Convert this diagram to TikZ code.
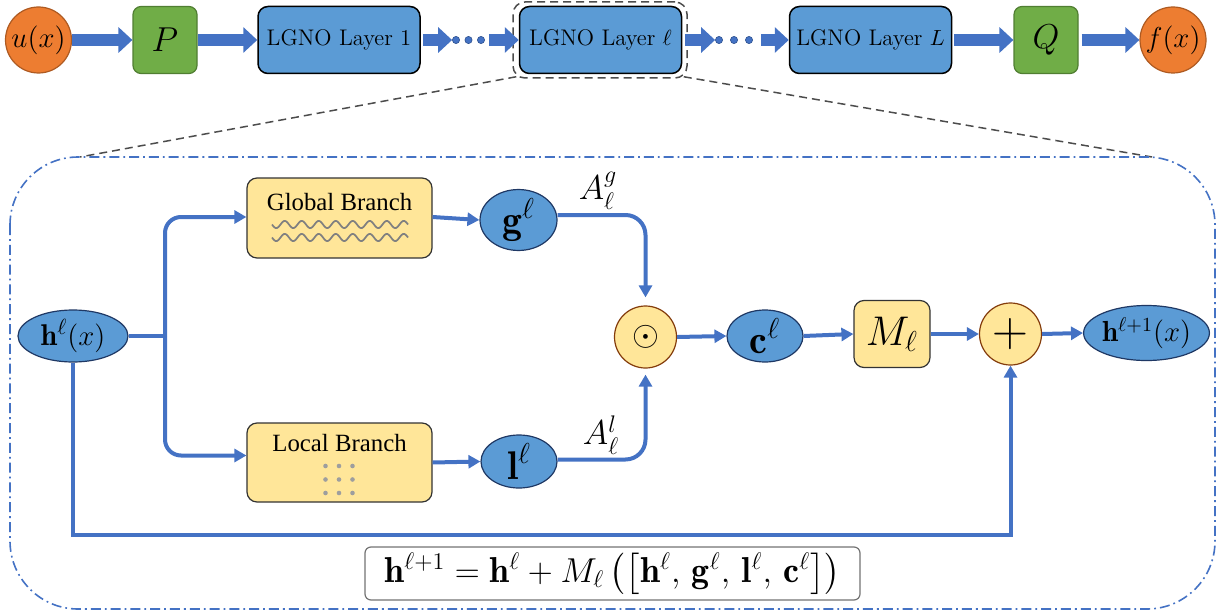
\documentclass[tikz,border=0pt]{standalone}
\usepackage{fontspec}
\usepackage{amsmath}
\newfontfamily\timesf{Liberation Serif}
\usetikzlibrary{arrows.meta,shapes.geometric,calc}
\definecolor{cblue}{HTML}{4472C4}
\definecolor{lblue}{HTML}{5B9BD5}
\definecolor{dblue}{HTML}{2F528F}
\definecolor{corange}{HTML}{ED7D31}
\definecolor{borange}{HTML}{AE5A21}
\definecolor{cgreen}{HTML}{70AD47}
\definecolor{bgreen}{HTML}{507E32}
\definecolor{cyel}{HTML}{FFE699}
\definecolor{bbrown}{HTML}{843C0C}
\definecolor{navy}{HTML}{1F3864}
\begin{document}
\begin{tikzpicture}[x=0.5pt,y=-0.5pt,
 fat/.style={line width=6pt, cblue, -{Triangle[length=7pt,width=12.5pt]}},
 conn/.style={line width=2pt, cblue},
 tip/.style={-{Triangle[length=6pt,width=6.5pt]}},
 layer/.style={draw=black, line width=0.75pt, fill=lblue, rounded corners=5pt, minimum width=81pt, minimum height=33.5pt, inner sep=0pt, font=\fontsize{11.3}{13}\selectfont},
 gbox/.style={draw=bgreen, line width=0.6pt, fill=cgreen, rounded corners=4pt, minimum width=32pt, minimum height=33.5pt, inner sep=0pt, font=\fontsize{16}{18}\selectfont},
 ocirc/.style={circle, draw=borange, line width=0.6pt, fill=corange, minimum size=33pt, inner sep=0pt, font=\fontsize{13.5}{15}\selectfont},
 bell/.style={ellipse, draw=navy, line width=0.6pt, fill=lblue, inner sep=0pt},
 ybox/.style={draw=black!80, line width=0.6pt, fill=cyel, rounded corners=5pt, inner sep=0pt},
 ycirc/.style={circle, draw=bbrown, line width=0.6pt, fill=cyel, minimum size=31pt, inner sep=0pt},
 bdot/.style={circle, fill=cblue, draw=dblue, line width=0.3pt, minimum size=3.6pt, inner sep=0pt},
 zoomline/.style={black!70, line width=0.75pt, dash pattern=on 4pt off 2.5pt},
 branchtxt/.style={font=\timesf\fontsize{12.4}{14}\selectfont},
 big/.style={font=\fontsize{20}{22}\selectfont},
]
\useasboundingbox (0,0) rectangle (1225,615);

% ---------- top row ----------
\node[ocirc] (u) at (38.5,40) {$u(x)$};
\node[gbox] (P) at (165,40) {$P$};
\node[layer] (L1) at (339,40) {LGNO Layer 1};
\node[layer] (Ll) at (600.5,40) {LGNO Layer $\ell$};
\node[layer] (LL) at (870.5,40) {LGNO Layer $L$};
\node[gbox] (Q) at (1046,40) {$Q$};
\node[ocirc] (f) at (1173,40) {$f(x)$};
\node[draw=black!70, dash pattern=on 4pt off 2.5pt, line width=0.75pt, rounded corners=6pt, minimum width=87pt, minimum height=38pt, inner sep=0pt] (zf) at (600,40) {};

\node[bdot] (d1) at (456,40) {};
\node[bdot] (d2) at (468.5,40) {};
\node[bdot] (d3) at (481,40) {};
\node[bdot] (d4) at (719,40) {};
\node[bdot] (d5) at (734,40) {};
\node[bdot] (d6) at (749,40) {};

\draw[fat] (u.east) -- (P.west);
\draw[fat] (P.east) -- (L1.west);
\draw[fat] ([xshift=1pt]L1.east) -- (d1.west);
\draw[fat] ([xshift=2pt]d3.east) -- (Ll.west);
\draw[fat] ([xshift=1.5pt]Ll.east) -- (d4.west);
\draw[fat] ([xshift=4pt]d6.east) -- (LL.west);
\draw[fat] ([xshift=1pt]LL.east) -- (Q.west);
\draw[fat] ([xshift=1.5pt]Q.east) -- (f.west);

% ---------- zoom frame ----------
\coordinate (cl) at (80,157);
\coordinate (cr) at (1152,157);
\draw[zoomline] ([xshift=2pt,yshift=1pt]zf.south west) -- (cl);
\draw[zoomline] ([xshift=-2pt,yshift=1pt]zf.south east) -- (cr);
\draw[cblue, line width=0.8pt, dash pattern=on 5pt off 2pt on 0.9pt off 2pt, rounded corners=34pt] (10,157) rectangle (1215,609);

% ---------- layer detail ----------
\node[bell, minimum width=55pt, minimum height=26pt, font=\fontsize{15}{17}\selectfont] (h) at (73,336) {$\mathbf{h}^{\ell}(x)$};
\coordinate (br) at (165,336);

\node[ybox, minimum width=92.5pt, minimum height=40pt] (gb) at (339.5,218) {};
\node[branchtxt] (gbt) at (339.5,202) {Global Branch};
\draw[black!50, line width=0.85pt] plot[domain=272:408, samples=160] (\x, {224.5+3.6*sin(21.1765*(\x-272))});
\draw[black!50, line width=0.85pt] plot[domain=272:408, samples=160] (\x, {237.5+3.6*sin(21.1765*(\x-272))});

\node[ybox, minimum width=92.5pt, minimum height=39.5pt] (lb) at (339.5,462.5) {};
\node[branchtxt] (lbt) at (339.5,443) {Local Branch};
\foreach \i in {325.5,339,352.5}
  \foreach \j in {466,479.5,493}
    \fill[black!38] (\i,\j) circle (1.15pt);

\node[bell, minimum width=38.5pt, minimum height=23pt, big] (g) at (518.5,220) {$\mathbf{g}^{\ell}$};
\node[bell, minimum width=38pt, minimum height=26.5pt, big] (l) at (519,461.5) {$\mathbf{l}^{\ell}$};
\node[ycirc, font=\fontsize{19}{21}\selectfont] (od) at (645.5,337) {$\odot$};
\node[bell, minimum width=38pt, minimum height=26pt, big] (c) at (765,336) {$\mathbf{c}^{\ell}$};
\node[ybox, minimum width=38pt, minimum height=33.5pt, font=\fontsize{20}{22}\selectfont] (M) at (892,334) {$M_{\ell}$};
\node[ycirc, font=\fontsize{25}{27}\selectfont] (plus) at (1010.5,334) {$+$};
\node[bell, minimum width=55.5pt, minimum height=27.5pt, font=\fontsize{14.5}{16}\selectfont] (hn) at (1146.5,333) {$\mathbf{h}^{\ell+1}(x)$};

\node[font=\fontsize{18}{20}\selectfont] (Ag) at (598,191) {$A_{\ell}^{g}$};
\node[font=\fontsize{18}{20}\selectfont] (Al) at (601,435) {$A_{\ell}^{l}$};

\node[draw=black!55, line width=0.6pt, rounded corners=3pt, fill=white, minimum width=247.5pt, minimum height=26.5pt, inner sep=0pt, font=\fontsize{18}{20}\selectfont] (eq) at (612.5,573.5)
  {$\mathbf{h}^{\ell+1} = \mathbf{h}^{\ell} + M_{\ell}\,\bigl(\bigl[\mathbf{h}^{\ell},\, \mathbf{g}^{\ell},\, \mathbf{l}^{\ell},\, \mathbf{c}^{\ell}\bigr]\bigr)$};

% connectors
\draw[conn] (h.east) -- (br);
\draw[conn,tip,rounded corners=8pt] (br) |- ([yshift=0.5pt]gb.west);
\draw[conn,tip,rounded corners=8pt] (br) |- ([yshift=3.5pt]lb.west);
\draw[conn,tip] ([yshift=0.5pt]gb.east) -- (g.west);
\draw[conn,tip] (lb.east) -- (l.west);
\draw[conn,tip,rounded corners=10pt,shorten >=4pt] ([yshift=2.5pt]g.east) -| (od.north);
\draw[conn,tip,rounded corners=10pt,shorten >=3pt] ([yshift=1pt]l.east) -| (od.south);
\draw[conn,tip] (od.east) -- (c.west);
\draw[conn,tip] (c.east) -- (M.west);
\draw[conn,tip] (M.east) -- (plus.west);
\draw[conn,tip] (plus.east) -- (hn.west);
\coordinate (sk) at (1010.5,535);
\draw[conn,tip] (h.south) |- (sk) -- (plus.south);
\end{tikzpicture}
\end{document}
